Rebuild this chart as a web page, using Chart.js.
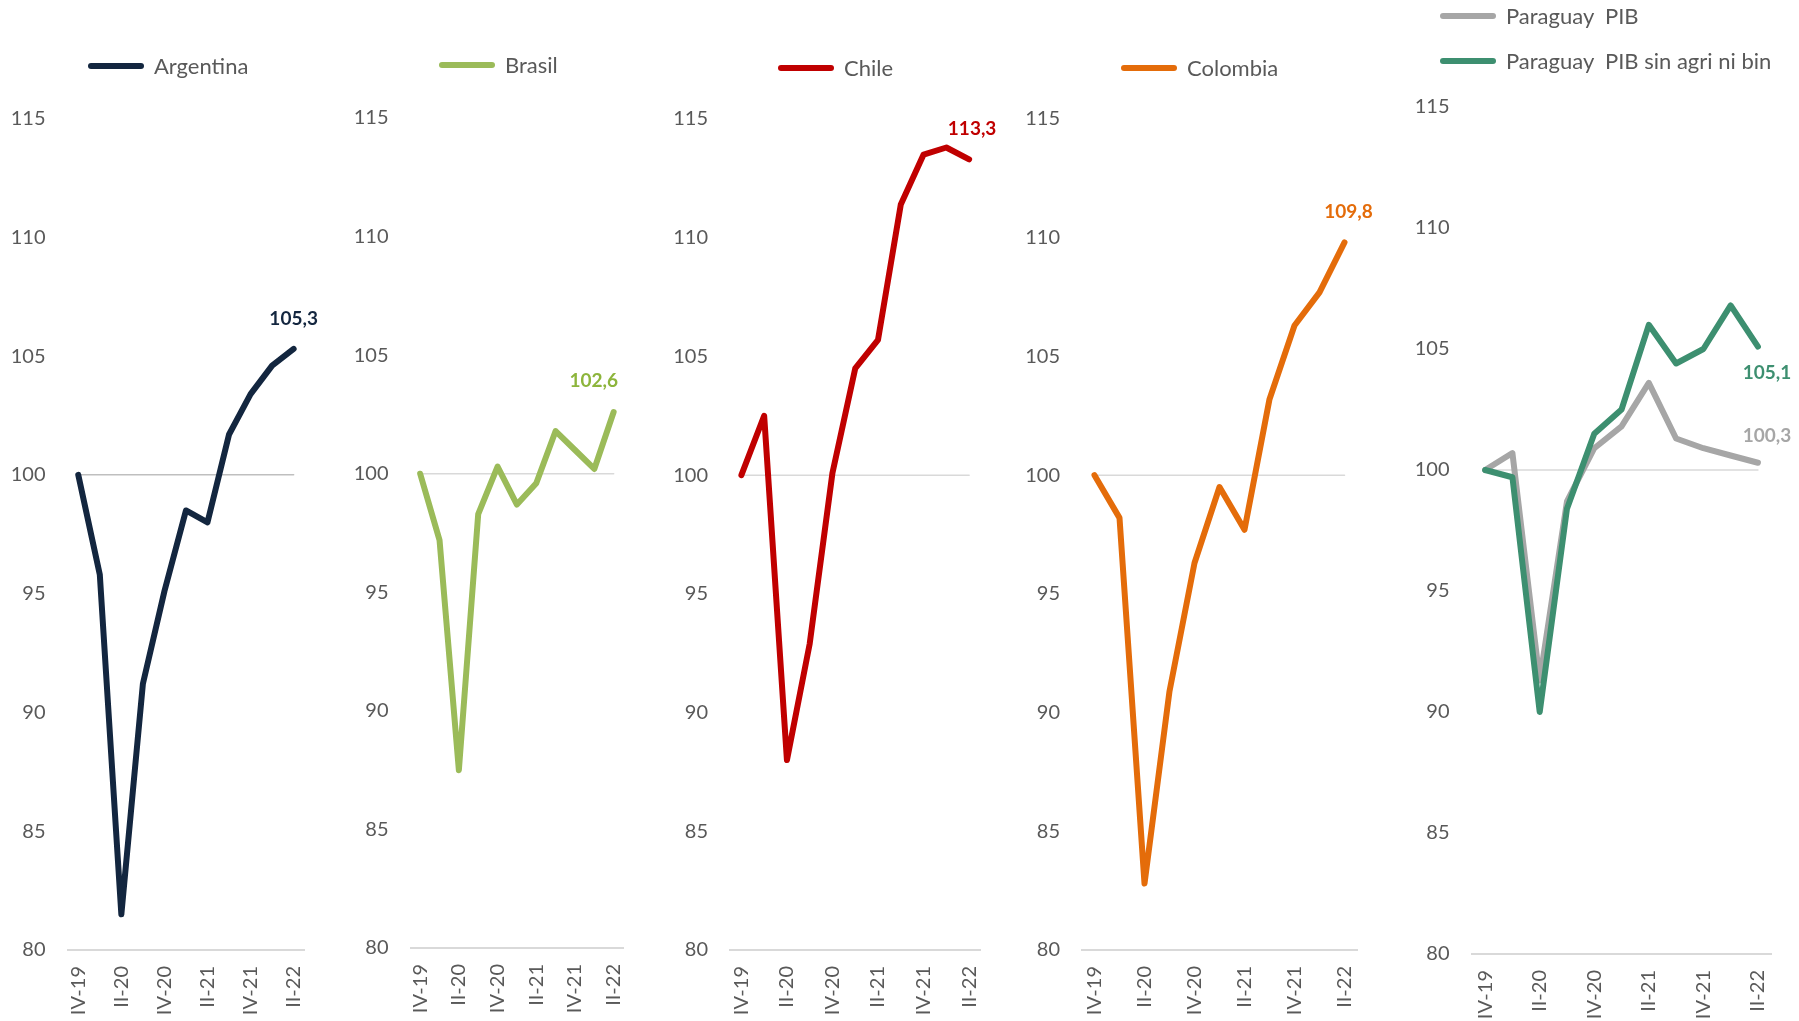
<!DOCTYPE html>
<html><head><meta charset="utf-8">
<script src="https://cdn.jsdelivr.net/npm/chart.js@4.4.1/dist/chart.umd.min.js"></script>
<style>
html,body{margin:0;padding:0;background:#fff;width:1799px;height:1021px;overflow:hidden;font-family:Lato,'Open Sans',sans-serif;}
canvas{position:absolute;top:0;}
.leg{position:absolute;height:24px;line-height:24px;display:flex;align-items:center;color:#595959;font-size:22px;white-space:pre;font-family:Lato,sans-serif;}
.leg .sw{display:inline-block;width:56px;height:6px;border-radius:3px;margin-right:10px;}
</style></head><body>
<canvas id="cArg"></canvas>
<canvas id="cBra"></canvas>
<canvas id="cChi"></canvas>
<canvas id="cCol"></canvas>
<canvas id="cPar"></canvas>

<div class="leg" style="left:88px;top:54px;"><span class="sw" style="background:#13263f"></span>Argentina</div>
<div class="leg" style="left:439px;top:53px;"><span class="sw" style="background:#9bbb59"></span>Brasil</div>
<div class="leg" style="left:778px;top:56px;"><span class="sw" style="background:#c00000"></span>Chile</div>
<div class="leg" style="left:1121px;top:56px;"><span class="sw" style="background:#e46c0a"></span>Colombia</div>
<div class="leg" style="left:1440px;top:4px;"><span class="sw" style="background:#a6a6a6"></span>Paraguay  PIB</div>
<div class="leg" style="left:1440px;top:49px;"><span class="sw" style="background:#3d8f70"></span>Paraguay  PIB sin agri ni bin</div>

<script>
// ---- data ----
const quarters = ['IV-19','I-20','II-20','III-20','IV-20','I-21','II-21','III-21','IV-21','I-22','II-22'];
const argentina = [100, 95.8, 81.5, 91.2, 95.1, 98.5, 98.0, 101.7, 103.4, 104.6, 105.3];
const brasil = [100, 97.2, 87.5, 98.3, 100.3, 98.7, 99.6, 101.8, 101.0, 100.2, 102.6];
const chile = [100, 102.5, 88.0, 92.9, 100.1, 104.5, 105.7, 111.4, 113.5, 113.8, 113.3];
const colombia = [100, 98.2, 82.8, 90.9, 96.3, 99.5, 97.7, 103.2, 106.3, 107.7, 109.8];
const paraguayPIB = [100, 100.7, 91.3, 98.7, 100.9, 101.8, 103.6, 101.3, 100.9, 100.6, 100.3];
const paraguaySinAgri = [100, 99.7, 90.0, 98.4, 101.5, 102.5, 106.0, 104.4, 105.0, 106.8, 105.1];
const baseline = [100, 100, 100, 100, 100, 100, 100, 100, 100, 100, 100];
const yMin = 80, yMax = 115, yStep = 5;

Chart.defaults.font.family = 'Lato, "Open Sans", sans-serif';

const valueLabelPlugin = {
  id: 'valueLabels',
  afterDatasetsDraw(chart, args, opts) {
    const ctx = chart.ctx;
    (opts.items || []).forEach(it => {
      const meta = chart.getDatasetMeta(it.dataset);
      const ds = chart.data.datasets[it.dataset];
      const i = ds.data.length - 1;
      const pt = meta.data[i];
      const txt = ds.data[i].toFixed(1).replace('.', ',');
      ctx.save();
      ctx.font = 'bold 19px Lato, sans-serif';
      ctx.fillStyle = it.color;
      ctx.textAlign = 'center';
      ctx.textBaseline = 'middle';
      ctx.fillText(txt, pt.x + it.dx, pt.y + it.dy);
      ctx.restore();
    });
  }
};

function series(data, color, width) {
  return { data, borderColor: color, backgroundColor: color, borderWidth: width || 6,
    pointRadius: 0, tension: 0, fill: false, borderJoinStyle: 'round', borderCapStyle: 'round' };
}

function makePanel(p) {
  const cv = document.getElementById(p.id);
  cv.width = p.x1 - p.x0; cv.height = 1021;
  cv.style.left = p.x0 + 'px';
  new Chart(cv, {
    type: 'line',
    data: { labels: quarters, datasets: p.datasets },
    options: {
      responsive: false, animation: false, devicePixelRatio: 1,
      layout: { padding: { left: 0, right: p.x1 - p.right, top: p.top, bottom: 0 } },
      scales: {
        x: { type: 'category', offset: true,
          grid: { display: false, drawTicks: false },
          border: { display: true, color: '#d9d9d9', width: 2 },
          ticks: { autoSkip: false, minRotation: 90, maxRotation: 90, padding: 16, color: '#595959',
            font: { size: 20 },
            callback(v, i) { return i % 2 === 0 ? this.getLabelForValue(v) : ''; } },
          afterFit(s) { s.height = 1021 - p.bottom; } },
        y: { min: yMin, max: yMax,
          grid: { display: false, drawTicks: false }, border: { display: false },
          ticks: { stepSize: yStep, padding: 22, color: '#595959', font: { size: 20 } },
          afterFit(s) { s.width = p.left - p.x0; } }
      },
      plugins: { legend: { display: false }, tooltip: { enabled: false }, valueLabels: { items: p.labels } }
    },
    plugins: [valueLabelPlugin]
  });
}

makePanel({ id: 'cArg', x0: 0, x1: 335, left: 67.5, right: 305, top: 118.5, bottom: 950,
  datasets: [series(argentina, '#13263f'), series(baseline, '#bfbfbf', 1.5)],
  labels: [{ dataset: 0, color: '#13263f', dx: 0, dy: -30 }] });
makePanel({ id: 'cBra', x0: 335, x1: 655, left: 410.5, right: 625.5, top: 118, bottom: 948,
  datasets: [series(brasil, '#9bbb59'), series(baseline, '#d9d9d9', 1.5)],
  labels: [{ dataset: 0, color: '#8db53c', dx: -20, dy: -31 }] });
makePanel({ id: 'cChi', x0: 655, x1: 1015, left: 730, right: 980.5, top: 119, bottom: 950,
  datasets: [series(chile, '#c00000'), series(baseline, '#d9d9d9', 1.5)],
  labels: [{ dataset: 0, color: '#c00000', dx: 3, dy: -30 }] });
makePanel({ id: 'cCol', x0: 1015, x1: 1400, left: 1082, right: 1357, top: 119, bottom: 950,
  datasets: [series(colombia, '#e46c0a'), series(baseline, '#d9d9d9', 1.5)],
  labels: [{ dataset: 0, color: '#e46c0a', dx: 4, dy: -31 }] });
makePanel({ id: 'cPar', x0: 1400, x1: 1799, left: 1471.5, right: 1775.5, top: 107, bottom: 954,
  datasets: [series(paraguaySinAgri, '#3d8f70'), series(paraguayPIB, '#a6a6a6'), series(baseline, '#d9d9d9', 1.5)],
  labels: [{ dataset: 0, color: '#3d8f70', dx: 9, dy: 26 }, { dataset: 1, color: '#a6a6a6', dx: 9, dy: -27 }] });
</script>
</body></html>
